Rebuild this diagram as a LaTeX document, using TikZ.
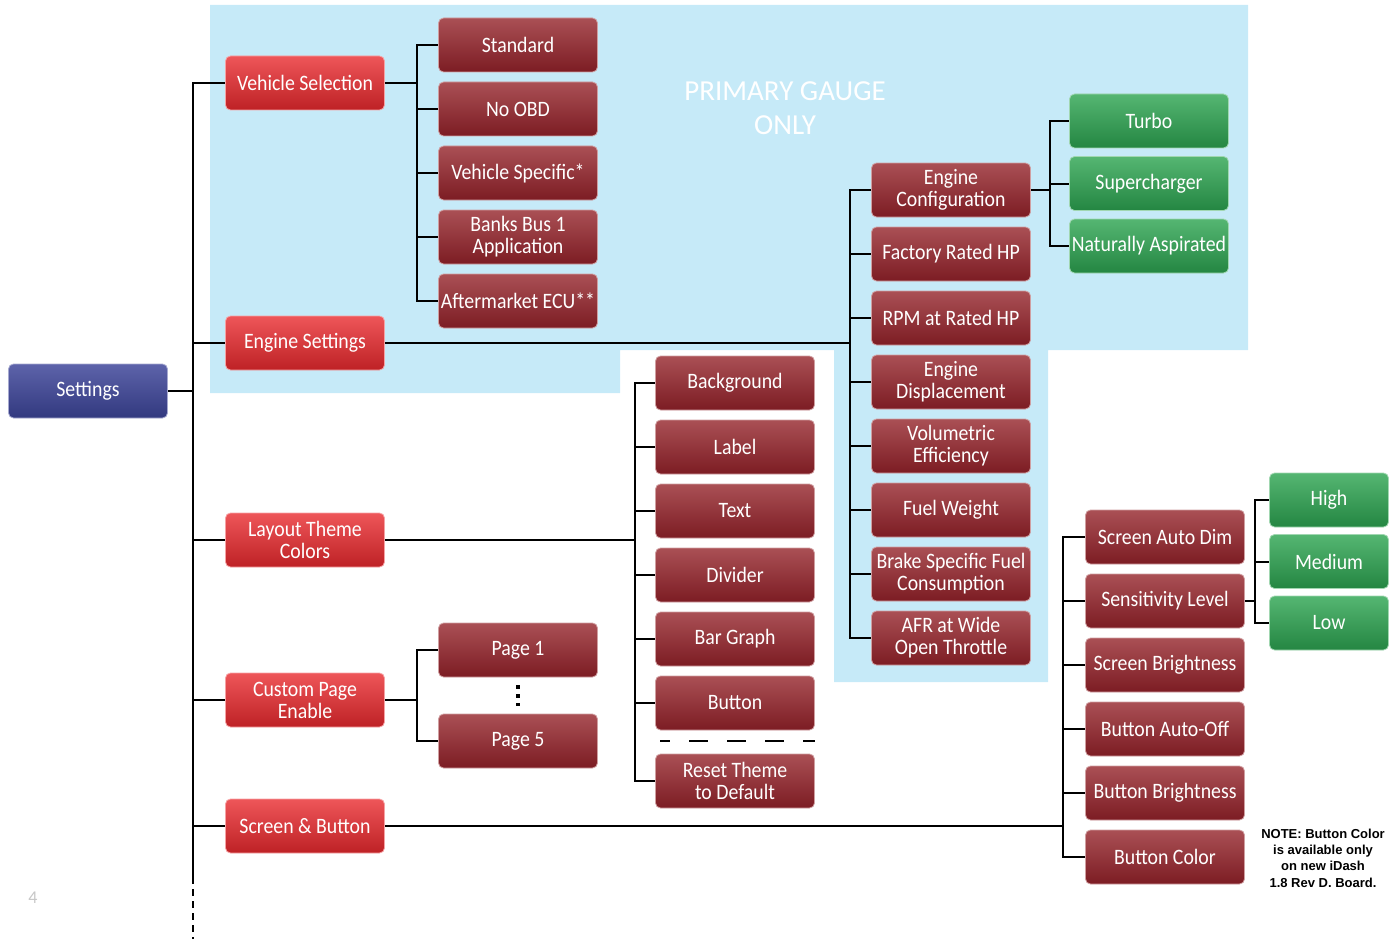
\documentclass[tikz,border=0pt]{standalone}
\usepackage{fontspec}
\setmainfont{Carlito}
\newfontfamily\boxfont[FakeStretch=0.9]{Carlito}
\newfontfamily\notefont{Liberation Sans}
\definecolor{bgblue}{RGB}{198,234,248}
\definecolor{rootTop}{RGB}{93,99,170}
\definecolor{rootBot}{RGB}{50,57,127}
\definecolor{catTop}{RGB}{238,86,89}
\definecolor{catBot}{RGB}{190,33,37}
\definecolor{optTop}{RGB}{170,80,85}
\definecolor{optBot}{RGB}{124,28,35}
\definecolor{valTop}{RGB}{85,182,114}
\definecolor{valBot}{RGB}{36,134,66}
\begin{document}
\begin{tikzpicture}[x=1pt,y=-1pt,node distance=64pt,
  box/.style={rounded corners=5pt,minimum width=159pt,minimum height=54pt,inner sep=1pt,align=center,text=white,line width=0.8pt,font=\boxfont\fontsize{22}{22}\selectfont},
  rootbox/.style={box,top color=rootTop,bottom color=rootBot,draw=rootTop!55!white},
  catbox/.style={box,top color=catTop,bottom color=catBot,draw=catTop!55!white},
  optbox/.style={box,top color=optTop,bottom color=optBot,draw=optTop!55!white},
  valbox/.style={box,minimum width=119pt,top color=valTop,bottom color=valBot,draw=valTop!55!white},
  wire/.style={line width=2pt,black}]
\useasboundingbox (0,0) rectangle (1400,939);
\fill[bgblue] (210,5) -- (1248,5) -- (1248,350) -- (1048,350) -- (1048,682) -- (834,682) -- (834,350) -- (620,350) -- (620,393) -- (210,393) -- cycle;
\node[font=\fontsize{29}{34}\selectfont,text=white,align=center] (TT) at (785,108) {PRIMARY GAUGE\\ONLY};

\node[rootbox] (S0) at (88,391) {Settings};
\node[catbox] (K1) at (305,83) {Vehicle Selection};
\node[catbox] (K2) at (305,343) {Engine Settings};
\node[catbox] (K3) at (305,540) {Layout Theme\\Colors};
\node[catbox] (K4) at (305,700) {Custom Page\\Enable};
\node[catbox] (K5) at (305,826) {Screen \& Button};

\node[optbox] (V1) at (518,45) {Standard};
\node[optbox,below of=V1] (V2) {No OBD};
\node[optbox,below of=V2] (V3) {Vehicle Specific*};
\node[optbox,below of=V3] (V4) {Banks Bus 1\\Application};
\node[optbox,below of=V4] (V5) {Aftermarket ECU**};

\node[optbox] (E1) at (951,190) {Engine\\Configuration};
\node[optbox,below of=E1] (E2) {Factory Rated HP};
\node[optbox,below of=E2] (E3) {RPM at Rated HP};
\node[optbox,below of=E3] (E4) {Engine\\Displacement};
\node[optbox,below of=E4] (E5) {Volumetric\\Efficiency};
\node[optbox,below of=E5] (E6) {Fuel Weight};
\node[optbox,below of=E6] (E7) {Brake Specific Fuel\\Consumption};
\node[optbox,below of=E7] (E8) {AFR at Wide\\Open Throttle};

\node[valbox,minimum width=159pt] (C1) at (1149,121) {Turbo};
\node[valbox,minimum width=159pt,below of=C1,node distance=62.5pt] (C2) {Supercharger};
\node[valbox,minimum width=159pt,below of=C2,node distance=62.5pt] (C3) {Naturally Aspirated};

\node[optbox] (L1) at (735,383) {Background};
\node[optbox,below of=L1] (L2) {Label};
\node[optbox,below of=L2] (L3) {Text};
\node[optbox,below of=L3] (L4) {Divider};
\node[optbox,below of=L4] (L5) {Bar Graph};
\node[optbox,below of=L5] (L6) {Button};
\node[optbox,below of=L6,node distance=78pt] (L7) {Reset Theme\\to Default};

\node[optbox] (P1) at (518,650) {Page 1};
\node[optbox,below of=P1,node distance=91pt] (P5) {Page 5};

\node[optbox] (B1) at (1165,537) {Screen Auto Dim};
\node[optbox,below of=B1] (B2) {Sensitivity Level};
\node[optbox,below of=B2] (B3) {Screen Brightness};
\node[optbox,below of=B3] (B4) {Button Auto-Off};
\node[optbox,below of=B4] (B5) {Button Brightness};
\node[optbox,below of=B5] (B6) {Button Color};

\node[valbox] (H1) at (1329,500) {High};
\node[valbox,below of=H1,node distance=61.5pt] (H2) {Medium};
\node[valbox,below of=H2,node distance=61.5pt] (H3) {Low};

\node[font=\notefont\bfseries\fontsize{13}{16.3}\selectfont,align=center] (NT) at (1323,858) {NOTE: Button Color\\is available only\\on new iDash\\1.8 Rev D. Board.};
\node[text=black!22,font=\fontsize{18}{18}\selectfont] (PN) at (33,898) {4};

\coordinate (T0) at (193,391);
\coordinate (T1) at (193,877);
\coordinate (T2) at (193,939);
\draw[wire] (S0) -- (T0);
\foreach \k in {K1,K2,K3,K4,K5} \draw[wire] (T0) |- (\k.west);
\draw[wire] (T0) -- (T1);
\draw[wire,dash pattern=on 7pt off 5pt] (T1) -- (T2);

\coordinate (VB) at (417,83);
\draw[wire] (K1) -- (VB);
\foreach \v in {V1,V2,V3,V4,V5} \draw[wire] (VB) |- (\v.west);

\coordinate (EB) at (850,343);
\draw[wire] (K2) -- (EB);
\foreach \e in {E1,E2,E3,E4,E5,E6,E7,E8} \draw[wire] (EB) |- (\e.west);

\coordinate (CB) at (1050,190);
\draw[wire] (E1) -- (CB);
\foreach \c in {C1,C2,C3} \draw[wire] (CB) |- (\c.west);

\coordinate (LB) at (635,540);
\draw[wire] (K3) -- (LB);
\foreach \l in {L1,L2,L3,L4,L5,L6,L7} \draw[wire] (LB) |- (\l.west);
\coordinate (DL) at (660,741);
\coordinate (DR) at (815,741);
\draw[wire,dash pattern=on 19pt off 19pt,dash phase=9pt] (DL) -- (DR);

\coordinate (PB) at (417,700);
\draw[wire] (K4) -- (PB);
\foreach \p in {P1,P5} \draw[wire] (PB) |- (\p.west);
\coordinate (D1) at (518,685);
\coordinate (D2) at (518,706);
\draw[line width=3.5pt,dash pattern=on 3.5pt off 5.5pt] (D1) -- (D2);

\coordinate (BB) at (1063,826);
\draw[wire] (K5) -- (BB);
\foreach \b in {B1,B2,B3,B4,B5,B6} \draw[wire] (BB) |- (\b.west);

\coordinate (HB) at (1255,601);
\draw[wire] (B2) -- (HB);
\foreach \h in {H1,H2,H3} \draw[wire] (HB) |- (\h.west);
\end{tikzpicture}
\end{document}
